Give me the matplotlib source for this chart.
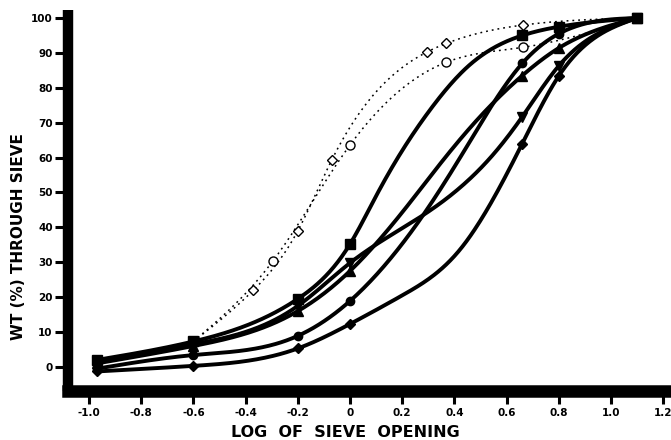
import numpy as np
import matplotlib
matplotlib.use("Agg")
import matplotlib.pyplot as plt

# ---------------- data ----------------
x_sieve = [-0.97, -0.6, -0.2, 0.0, 0.66, 0.8, 1.1]
wt_square = [2.0, 7.3, 19.5, 35.2, 95.0, 97.5, 100.0]
wt_tri_down = [1.5, 6.5, 17.5, 29.8, 71.7, 86.3, 100.0]
wt_tri_up = [1.0, 6.0, 16.0, 27.5, 83.5, 91.4, 100.0]
wt_circle = [-0.5, 3.4, 8.9, 18.9, 87.0, 95.5, 100.0]
wt_diamond = [-1.3, 0.3, 5.3, 12.3, 64.0, 83.4, 100.0]

# unmarked points along the hand-drawn curves
trace_square_x = [0.10, 0.20, 0.30, 0.45]
trace_square_y = [49.0, 62.0, 73.0, 86.0]
trace_tri_up_x = [0.217, 0.357, 0.498]
trace_tri_up_y = [45.9, 59.3, 71.7]
trace_tri_down_x = [0.28, 0.55]
trace_tri_down_y = [43.5, 61.0]
trace_circle_x = [0.28, 0.43]
trace_circle_y = [43.5, 61.0]
trace_diamond_x = [0.20, 0.42]
trace_diamond_y = [20.5, 33.5]

# dotted (open-symbol) series; first and last points are the shared junctions
open_diamond_x = [-0.6, -0.37, -0.2, -0.07, 0.296, 0.368, 0.664, 1.1]
open_diamond_y = [7.3, 22.0, 39.0, 59.3, 90.3, 92.7, 98.0, 100.0]
open_circle_x = [-0.6, -0.295, 0.0, 0.368, 0.663, 1.1]
open_circle_y = [7.3, 30.4, 63.6, 87.3, 91.6, 100.0]

x_ticks = [-1.0, -0.8, -0.6, -0.4, -0.2, 0.0, 0.2, 0.4, 0.6, 0.8, 1.0, 1.2]
x_tick_labels = ["-1.0", "-0.8", "-0.6", "-0.4", "-0.2", "0", "0.2", "0.4",
                 "0.6", "0.8", "1.0", "1.2"]
y_ticks = [0, 10, 20, 30, 40, 50, 60, 70, 80, 90, 100]
y_tick_labels = [str(v) for v in y_ticks]


def natural_spline(x, y, xs):
    """Natural cubic spline through (x, y), evaluated at xs (drawing only)."""
    x = np.asarray(x, float); y = np.asarray(y, float)
    n = len(x)
    h = np.diff(x)
    A = np.zeros((n, n)); b = np.zeros(n)
    A[0, 0] = 1.0; A[-1, -1] = 1.0
    for i in range(1, n - 1):
        A[i, i - 1] = h[i - 1]
        A[i, i] = 2 * (h[i - 1] + h[i])
        A[i, i + 1] = h[i]
        b[i] = 6 * ((y[i + 1] - y[i]) / h[i] - (y[i] - y[i - 1]) / h[i - 1])
    M = np.linalg.solve(A, b)
    idx = np.clip(np.searchsorted(x, xs) - 1, 0, n - 2)
    x0 = x[idx]; x1 = x[idx + 1]; hh = h[idx]
    return (M[idx] * (x1 - xs) ** 3 / (6 * hh) + M[idx + 1] * (xs - x0) ** 3 / (6 * hh)
            + (y[idx] / hh - M[idx] * hh / 6) * (x1 - xs)
            + (y[idx + 1] / hh - M[idx + 1] * hh / 6) * (xs - x0))


def merged(mx, my, tx, ty):
    xx = np.array(list(mx) + list(tx)); yy = np.array(list(my) + list(ty))
    o = np.argsort(xx)
    return xx[o], yy[o]


fig = plt.figure(figsize=(6.71, 4.40), dpi=100)
ax = fig.add_axes([68 / 671, 49 / 440, 1 - 68 / 671, (391 - 10) / 440])
ax.set_xlim(-1.0805, 1.2299)
ax.set_ylim(-6.9, 102.3)

BOLD = dict(family="DejaVu Sans", weight="bold")

# dotted open-symbol curves
for xs_, ys_, mk in [(open_diamond_x, open_diamond_y, "D"),
                     (open_circle_x, open_circle_y, "o")]:
    xf = np.linspace(xs_[0], xs_[-1], 300)
    yf = np.minimum(natural_spline(xs_, ys_, xf), 100.0)
    ax.plot(xf, yf, color="black", lw=1.1, linestyle=(0, (1.2, 2.6)), zorder=2)
    ax.plot(xs_[1:-1], ys_[1:-1], linestyle="none", marker=mk,
            ms=6.5 if mk == "o" else 5.2, mfc="white", mec="black", mew=1.0, zorder=3)

solid = [
    (wt_square, trace_square_x, trace_square_y, "s", 6.5),
    (wt_tri_down, trace_tri_down_x, trace_tri_down_y, "v", 7),
    (wt_tri_up, trace_tri_up_x, trace_tri_up_y, "^", 7),
    (wt_circle, trace_circle_x, trace_circle_y, "o", 6),
    (wt_diamond, trace_diamond_x, trace_diamond_y, "D", 5),
]
for wy, tx, ty, mk, ms in solid:
    xx, yy = merged(x_sieve, wy, tx, ty)
    xf = np.linspace(xx[0], xx[-1], 400)
    yf = np.minimum(natural_spline(xx, yy, xf), 100.0)
    ax.plot(xf, yf, color="black", lw=2.8, solid_capstyle="round", zorder=4)
    ax.plot(x_sieve, wy, linestyle="none", marker=mk, ms=ms,
            color="black", zorder=5)

# axes styling
for s in ["top", "right"]:
    ax.spines[s].set_visible(False)
ax.spines["left"].set_linewidth(7.5)
ax.spines["bottom"].set_linewidth(9)
ax.spines["left"].set_capstyle("butt")

ax.set_xticks(x_ticks)
ax.set_xticklabels(x_tick_labels, **BOLD, fontsize=7.5)
ax.set_yticks(y_ticks)
ax.set_yticklabels(y_tick_labels, **BOLD, fontsize=7.5)
ax.tick_params(axis="y", direction="out", length=9.5, width=2.2, pad=1.5)
ax.tick_params(axis="x", direction="out", length=9.5, width=2.2, pad=2.5)

fig.text(345 / 671, 1 - 432 / 440, "LOG  OF  SIEVE  OPENING", ha="center",
         va="center", fontsize=11.5, **BOLD)
fig.text(19 / 671, 1 - 237 / 440, "WT (%) THROUGH SIEVE", ha="center",
         va="center", rotation=90, fontsize=11, **BOLD)

fig.savefig("out.png", dpi=100)
